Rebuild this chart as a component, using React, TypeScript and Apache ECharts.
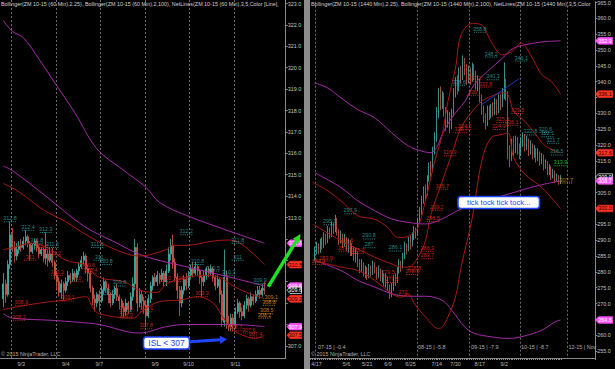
import React, { useEffect, useRef } from "react";
import * as echarts from "echarts";

const FONT = "'Liberation Sans', Arial, sans-serif";
const UP = "#43b3aa";
const DOWN = "#d4574a";
const RED = "#a8190f";
const PURPLE = "#a42aa8";
const CYAN = "#2fa8a8";
const LRED = "#e8301e";
const ORANGE = "#f29a12";
const GREEN = "#22e022";

// ---------- left panel (60 min) ----------
const LEFT_COUNT = 128;
const LEFT_FIRST = 1;
const leftDates: [number, string][] = [[9, "9/3"], [29, "9/4"], [44, "9/7"], [69, "9/9"], [84, "9/10"], [105, "9/11"]];
const leftDayBreaks = [5, 25, 45, 65, 85, 105];
// [open, close, low, high]
const leftBars: number[][] = [
  [309.2,309.9,308.8,310.4],[309.9,309.4,309.0,310.1],[309.4,310.8,309.3,311.0],[310.8,312.2,310.6,312.8],
  [312.2,311.6,311.4,312.5],[311.6,311.2,310.9,311.9],[311.2,311.5,311.0,311.8],[311.5,311.7,311.3,311.9],
  [311.7,311.6,311.4,312.0],[311.6,311.9,311.5,312.1],[311.9,312.1,311.7,312.4],[312.1,311.8,311.6,312.2],
  [311.8,311.4,311.0,311.9],[311.4,311.7,311.3,311.8],[311.7,311.9,311.5,312.0],[311.9,311.6,311.4,312.0],
  [311.6,311.3,311.1,311.7],[311.3,311.5,311.2,311.6],[311.5,311.1,310.9,311.6],[311.1,311.3,310.8,312.3],
  [311.3,311.0,310.7,311.5],[311.0,311.3,310.9,311.6],[311.3,310.9,310.7,311.6],[310.9,310.3,310.1,311.0],
  [310.3,310.0,309.6,310.5],[310.0,309.5,309.3,310.2],[309.5,309.9,309.2,310.1],[309.9,309.6,309.1,310.0],
  [309.6,310.0,309.5,310.2],[310.0,310.3,309.8,310.5],[310.3,310.1,309.9,310.4],[310.1,310.4,310.0,310.6],
  [310.4,310.2,310.0,310.5],[310.2,310.5,310.0,310.6],[310.5,310.7,310.3,310.9],[310.7,311.0,310.6,311.2],
  [311.0,311.2,310.8,311.4],[311.2,310.6,310.4,311.3],[310.6,310.4,310.0,310.8],[310.4,309.7,309.5,310.5],
  [309.7,309.2,308.9,309.8],[309.2,309.0,308.6,309.4],[309.0,309.4,308.8,309.5],[309.4,309.1,308.6,309.6],
  [309.1,309.6,309.0,309.8],[309.6,310.0,309.4,310.2],[310.0,309.7,309.5,310.1],[309.7,309.4,309.0,309.9],
  [309.4,309.0,308.8,309.5],[309.0,309.4,308.9,309.6],[309.4,309.7,309.2,309.8],[309.7,309.3,309.1,309.9],
  [309.3,309.1,308.7,309.4],[309.1,308.8,308.4,309.2],[308.8,308.6,308.3,309.0],[308.6,309.0,308.4,309.2],
  [309.0,308.7,308.5,309.1],[308.7,309.3,308.6,309.5],[309.3,309.9,309.1,310.2],[309.9,311.6,309.6,312.0],
  [311.6,309.0,308.6,311.8],[309.0,309.4,308.8,309.7],[309.4,309.1,308.7,309.6],[309.1,308.9,308.5,309.3],
  [308.9,308.4,307.9,309.1],[308.4,309.2,308.3,309.4],[309.2,309.8,309.0,310.0],[309.8,310.2,309.6,310.3],
  [310.2,310.0,309.8,310.4],[310.0,310.3,309.8,310.5],[310.3,310.1,309.9,310.4],[310.1,310.4,310.0,310.6],
  [310.4,310.0,309.8,310.5],[310.0,310.5,309.8,310.8],[310.5,311.3,310.4,311.6],[311.3,311.7,311.0,312.0],
  [311.7,310.9,310.6,312.2],[310.9,310.2,310.0,311.1],[310.2,309.6,309.2,310.4],[309.6,309.0,308.4,309.8],
  [309.0,309.6,308.8,309.8],[309.6,310.1,309.4,310.3],[310.1,309.8,309.6,310.4],[309.8,310.3,309.7,310.5],
  [310.3,310.6,310.1,310.8],[310.6,310.4,310.2,310.9],[310.4,310.7,310.3,310.9],[310.7,310.5,310.3,310.8],
  [310.5,310.2,309.9,310.6],[310.2,310.0,309.3,310.3],[310.0,310.3,309.8,310.5],[310.3,310.6,310.1,310.7],
  [310.6,310.4,310.2,310.7],[310.4,310.6,310.3,310.8],[310.6,310.2,310.0,310.7],[310.2,309.8,309.6,310.3],
  [309.8,310.1,309.7,310.3],[310.1,309.4,309.0,310.2],[309.4,308.2,307.9,309.6],[308.1,310.2,307.9,311.5],
  [310.2,308.0,307.8,310.5],[308.0,307.9,307.7,308.4],[307.9,308.3,307.7,308.5],[308.3,308.0,307.7,308.5],
  [308.0,308.6,307.8,308.8],[308.6,309.0,308.5,309.2],[309.0,308.6,308.3,309.1],[308.6,308.4,308.2,308.8],
  [308.4,308.9,308.3,309.1],[308.9,309.2,308.7,309.4],[309.2,308.9,308.6,309.3],[308.9,309.3,308.8,309.5],
  [309.3,309.1,308.9,309.4],[309.1,309.4,309.0,309.6],[309.4,309.6,309.3,309.8],[309.6,309.4,309.2,309.8],
  [309.4,309.7,309.3,309.9],[309.7,309.6,309.4,310.0],
];
const leftUpperPurple = [[1,322.2],[5,321.7],[10,321.4],[17,320.4],[24,319.3],[33,317.9],[43,316.2],[55,315.2],[65,314.4],[71,313.7],[83,313.1],[104,312.3],[118,311.8]];
const leftMidPurple = [[1,315.4],[5,315.2],[20,314.0],[37,312.6],[50,311.9],[64,311.2],[83,310.7],[103,310.2],[118,309.8]];
const leftLowerPurple = [[1,308.5],[5,308.3],[22,308.2],[35,308.1],[44,308.0],[62,307.6],[74,307.9],[83,308.0],[104,308.0],[118,307.9]];
const leftUpperRed = [[1,314.6],[8,314.2],[19,313.35],[29,312.8],[38,312.2],[49,311.6],[62,311.2],[74,311.5],[77,311.7],[83,311.7],[95,311.9],[102,311.95],[107,311.8],[113,311.3],[118,310.8]];
const leftMidRed = [[1,311.5],[4,311.56],[14,311.8],[22,311.5],[29,311.0],[37,310.8],[44,310.2],[55,310.0],[62,309.6],[70,309.5],[74,309.9],[83,310.2],[92,310.3],[98,310.2],[104,309.8],[110,309.5],[118,309.2]];
const leftLowerRed = [[1,308.7],[11,308.9],[22,309.07],[29,309.14],[38,309.3],[41,308.8],[44,308.5],[59,308.3],[64,308.7],[71,309.07],[80,309.14],[88,309.3],[95,309.0],[99,308.4],[104,307.74],[110,307.43],[114,307.35],[118,307.5]];
// [category index, price level, text]
const leftCyanLabels: [number, number, string][] = [
  [4,312.8,"312.8"],[12,312.4,"312.4"],[20,312.3,"312.3"],[16,311.8,"311.8"],[23,311.6,"311.6"],
  [43,311.6,"311.6"],[44,311.0,"311"],[47,310.8,"310.8"],[83,312.2,"312.2"],[106,311.8,"311.8"],
  [106,311.0,"311"],[88,310.8,"310.8"],[95,310.5,"310.5"],[102,310.3,"310.3"],[116,309.9,"309.9"],
  [53,309.8,"309.8"],[48,309.4,"309.4"],
];
const leftRedLabels: [number, number, string][] = [
  [13,311.0,"311"],[18,311.5,"311.5"],[24,311.2,"311.2"],[25,310.3,"310.3"],[34,310.0,"310"],
  [39,310.6,"310.6"],[40,310.4,"310.4"],[30,309.1,"309.1"],[9,308.9,"308.9"],[8,308.2,"308.2"],
  [74,310.0,"310"],[81,310.0,"310.1"],[90,309.3,"309.3"],[56,308.6,"308.6"],[56,308.3,"308.3"],
  [65,308.6,"308.6"],[65,307.8,"307.8"],[105,307.7,"307.7"],[111,307.6,"307.6"],[114,307.4,"307.4"],
];
const leftOrangeLabels: [number, number, string][] = [
  [121,309.1,"309.1"],[120,308.9,"308.8"],[119,308.5,"308.5"],[118,308.3,"308.2"],
];
const leftTags: [number, string][] = [[311.8,"pink"],[310.8,"red"],[309.8,"pink"],[309.6,"last"],[309.2,"red"],[307.9,"pink"],[307.5,"red"]];

// ---------- right panel (1440 min) ----------
const RIGHT_COUNT = 152;
const RIGHT_FIRST = 2;
const rightDates: [number, string][] = [[3,"4/17"],[19,"5/6"],[30,"5/21"],[41,"6/9"],[53,"6/25"],[67,"7/14"],[77,"7/30"],[90,"8/17"],[103,"9/2"]];
const rightContractBreaks = [3, 57, 85, 112, 137];
const rightContractTexts = ["07-15 | -0.4", "08-15 | -5.8", "09-15 | -7.9", "10-15 | -8.7", "12-15 | Nov"];
const rightBars: number[][] = [
  [285.0,286.5,283.5,288.0],[286.5,288.0,285.5,289.5],[288.0,287.0,285.5,289.0],[287.0,289.5,286.0,290.5],
  [289.5,288.5,287.0,291.0],[288.5,291.0,287.5,292.5],[291.0,290.0,288.5,292.0],[290.0,293.0,289.0,294.5],
  [293.0,292.0,290.5,294.0],[292.0,294.5,291.0,296.0],[294.5,293.5,292.0,295.5],[293.5,296.0,292.5,298.0],
  [296.0,292.5,291.5,297.0],[292.5,290.0,288.5,293.5],[290.0,291.5,289.0,293.0],[291.5,289.0,287.5,292.0],
  [289.0,290.5,288.0,292.0],[290.5,288.0,286.5,291.0],[288.0,289.0,286.0,290.5],[289.0,286.5,285.0,290.0],
  [286.5,287.5,285.0,289.0],[287.5,285.0,283.5,288.0],[285.0,286.0,283.0,287.5],[286.0,283.0,281.5,286.5],
  [283.0,281.5,279.5,284.0],[281.5,282.5,280.0,284.0],[282.5,279.5,278.5,283.0],[279.5,280.5,278.0,282.0],
  [280.5,279.0,277.5,281.5],[279.0,281.0,278.0,282.5],[281.0,280.0,278.5,282.0],[280.0,282.0,279.0,283.5],
  [282.0,281.0,279.5,283.0],[281.0,279.0,277.5,281.5],[279.0,280.5,278.0,282.0],[280.5,278.5,277.0,281.0],
  [278.5,279.0,276.5,280.5],[279.0,277.0,275.5,279.5],[277.0,278.0,275.0,279.5],[278.0,275.5,274.0,278.5],
  [275.5,273.0,271.5,276.0],[273.0,275.0,272.0,276.5],[275.0,278.0,274.0,279.0],[278.0,277.0,275.5,279.5],
  [277.0,280.5,276.5,281.5],[280.5,282.5,279.5,284.0],[282.5,281.5,280.0,283.5],[281.5,285.0,281.0,286.0],
  [285.0,288.5,284.0,289.5],[288.5,287.0,285.5,289.0],[287.0,290.0,286.5,291.0],[290.0,289.0,287.0,291.5],
  [289.0,291.0,288.0,292.5],[291.0,293.5,290.0,294.5],[293.5,292.0,290.5,294.0],[292.0,296.0,291.5,297.0],
  [296.0,299.0,295.0,300.5],[299.0,302.5,298.0,304.0],[302.5,306.0,301.5,307.0],[306.0,304.5,302.5,307.5],
  [304.5,309.5,304.0,310.5],[309.5,313.0,308.5,314.5],[313.0,312.0,310.0,315.0],[312.0,318.0,311.5,319.5],
  [318.0,322.0,317.0,324.0],[322.0,330.0,321.0,332.0],[330.0,336.0,328.5,338.0],[336.0,333.0,331.0,338.5],
  [333.0,335.5,331.5,337.0],[335.5,331.0,329.0,336.5],[331.0,327.0,324.5,332.0],[327.0,329.5,325.5,331.0],
  [329.5,325.5,323.7,330.5],[325.5,330.0,325.0,331.5],[330.0,336.5,329.0,338.0],[336.5,340.0,335.0,341.5],
  [340.0,338.0,336.0,342.0],[338.0,343.0,337.0,344.5],[343.0,341.5,339.5,345.0],[341.5,346.0,340.5,348.3],
  [346.0,344.0,342.0,347.5],[344.0,340.5,339.0,345.5],[340.5,343.5,339.5,345.0],[343.5,341.0,339.0,344.5],
  [341.0,344.5,340.0,346.0],[344.5,342.5,340.5,345.5],[342.5,339.0,337.5,343.5],[339.0,340.5,337.0,342.0],
  [340.5,335.0,333.5,341.0],[335.0,331.0,329.5,336.0],[331.0,329.0,327.0,332.5],[329.0,327.0,324.9,330.0],
  [327.0,331.5,326.0,332.5],[331.5,329.5,328.0,332.5],[329.5,332.0,328.5,333.0],[332.0,330.5,329.0,333.5],
  [330.5,333.5,329.5,335.0],[333.5,331.0,329.5,334.5],[331.0,334.5,330.0,336.0],[334.5,333.0,331.0,336.0],
  [333.0,336.0,332.0,338.0],[336.0,339.5,334.5,346.1],[339.5,336.0,334.0,341.0],[336.0,318.0,315.5,337.0],
  [318.0,316.0,313.0,320.0],[316.0,320.5,315.0,322.0],[320.5,318.5,316.5,322.8],[318.5,322.0,317.5,323.0],
  [322.0,319.0,317.0,322.5],[319.0,317.5,315.5,320.5],[317.5,321.0,316.5,322.5],[321.0,322.5,319.5,324.0],
  [322.5,319.5,318.0,323.5],[319.5,321.5,318.5,323.0],[321.5,318.0,316.5,322.0],[318.0,320.0,317.0,321.5],
  [320.0,317.0,315.5,320.5],[317.0,318.5,316.0,320.0],[318.5,316.0,314.5,319.0],[316.0,317.5,315.0,319.0],
  [317.5,315.0,313.5,318.0],[315.0,316.5,314.0,317.5],[316.5,313.5,312.0,317.0],[313.5,314.5,312.5,315.5],
  [314.5,312.0,310.5,315.0],[312.0,313.0,310.5,314.0],[313.0,310.5,309.0,313.5],[310.5,311.5,309.5,312.5],
  [311.5,309.5,308.0,312.0],[309.5,310.0,308.5,311.0],[310.0,308.5,307.5,310.5],[308.5,309.9,307.7,310.5],
];
const rightUpperPurple = [[2,339.6],[9,338.0],[16,334.9],[25,331.2],[34,328.6],[43,323.9],[52,319.7],[59,318.1],[64,317.6],[67,319.2],[70,323.4],[75,328.6],[82,333.8],[87,339.1],[94,343.2],[102,347.4],[108,350.6],[119,352.2],[126,352.7],[133,352.9]];
const rightMidPurple = [[2,311.3],[16,306.6],[25,302.4],[34,299.3],[43,296.7],[52,295.6],[61,295.1],[70,296.7],[78,299.3],[87,301.4],[96,302.9],[105,304.5],[114,306.1],[123,307.5],[133,308.7]];
const rightLowerPurple = [[2,283.6],[16,280.4],[25,277.3],[34,275.2],[43,273.1],[52,272.3],[61,272.3],[70,271.0],[75,267.9],[82,262.6],[87,260.6],[96,259.5],[105,259.0],[112,259.5],[123,261.6],[130,264.2],[133,264.8]];
const rightUpperRed = [[1,308.2],[9,305.6],[16,302.4],[25,297.7],[34,296.6],[41,294.0],[46,290.9],[50,290.9],[54,292.0],[57,294.0],[61,302.4],[66,315.0],[70,323.4],[73,333.8],[77,344.3],[80,354.8],[86,358.4],[91,357.9],[96,352.7],[102,348.5],[107,349.5],[112,352.2],[117,348.5],[123,342.2],[128,340.1],[133,336.1]];
const rightMidRed = [[1,295.1],[16,289.8],[25,287.2],[34,284.6],[43,282.5],[48,281.5],[52,281.5],[57,284.6],[61,289.8],[64,298.2],[70,308.7],[75,317.1],[80,325.5],[86,330.7],[91,333.8],[96,335.4],[102,336.5],[105,335.9],[108,330.7],[114,327.5],[119,323.9],[124,320.2],[130,318.1],[133,317.6]];
const rightLowerRed = [[1,283.6],[16,281.5],[25,280.4],[34,277.3],[43,273.1],[48,272.0],[52,273.1],[55,270.0],[61,265.8],[68,262.1],[70,262.6],[73,265.8],[77,272.0],[80,281.5],[86,297.2],[91,315.0],[96,322.3],[102,323.4],[105,323.9],[108,316.1],[114,310.8],[123,306.6],[133,300.0]];
const rightTrend = [[91,332.8],[111,341.0]];
const rightCyanLabels: [number, number, string][] = [
  [90,355.6,"358.8"],[96,347.8,"348.2"],[112,346.5,"346.1"],[97,340.6,"340.3"],[79,338.9,"338.6"],
  [117,323.2,"322.8"],[125,324.0,"320.6"],[126,322.6,"322.1"],[129,320.6,"321.7"],[131,316.9,"316.5"],
  [21,298.3,"297.9"],[10,294.9,"295.3"],[31,290.4,"290.8"],[31,287.6,"287"],[45,286.6,"286.1"],
];
const rightRedLabels: [number, number, string][] = [
  [93,338.3,"337.8"],[87,340.2,"337.3"],[86,335.7,"336"],[110,330.0,"329.5"],[102,327.1,"325.9"],
  [100,324.9,"324.9"],[107,326.3,"326.1"],[82,324.9,"324.5"],[80,323.9,"323.7"],[74,316.6,"316.3"],
  [70,306.1,"305.7"],[67,299.4,"299.2"],[65,295.9,"296.5"],[62,286.5,"286.3"],[62,284.1,"283.7"],
  [55,280.2,"278.8"],[54,279.2,"278.3"],[49,272.6,"272"],[41,278.7,"279.5"],[43,276.6,"277.5"],
  [8,283.4,"283.9"],[4,282.3,"281.9"],[19,289.1,"289.6"],[18,286.5,"287.4"],[25,285.8,"285.3"],
];
const rightGreenLabels: [number, number, string][] = [[133,313.5,"313.3"]];
const rightOrangeLabels: [number, number, string][] = [[136,308.0,"307.7"]];
const rightTags: [number, string][] = [[352.9,"pink"],[336.1,"red"],[317.6,"red"],[309.9,"last"],[308.7,"pink"],[300.0,"red"],[264.8,"pink"]];

const DOTS = "path://M0,0h1v1h-1z M2,0h1v1h-1z M4,0h1v1h-1z M6,0h1v1h-1z M8,0h1v1h-1z M10,0h1v1h-1z";

function padBars(bars: number[][], first: number, count: number) {
  const out: any[] = [];
  for (let i = 0; i < count; i++) {
    const b = bars[i - first];
    out.push(i >= first && b ? b : "-");
  }
  return out;
}

function cats(count: number, labels: [number, string][]) {
  const m = new Map(labels);
  return Array.from({ length: count }, (_, i) => m.get(i) ?? "");
}

const band = (xi: number, data: number[][], color: string, width = 1) => ({
  type: "line", xAxisIndex: xi, yAxisIndex: xi, data, smooth: 0.35, showSymbol: false, symbol: "none",
  lineStyle: { color, width }, z: 3, silent: true,
});

const labels = (xi: number, items: [number, number, string][], color: string) => ({
  type: "scatter", xAxisIndex: xi, yAxisIndex: xi,
  data: items.map(([i, v, t]) => ({ value: [i, v], name: t })),
  symbol: DOTS, symbolSize: [12, 1], itemStyle: { color },
  label: { show: true, position: "top", distance: 0.5, formatter: (p: any) => p.name, color, fontSize: 5.4, fontFamily: FONT },
  z: 5, silent: true,
});

const candle = (xi: number, data: any[], w: number) => ({
  type: "candlestick", xAxisIndex: xi, yAxisIndex: xi, data, barWidth: w,
  itemStyle: { color: UP, color0: DOWN, borderColor: UP, borderColor0: DOWN, borderWidth: 0.8 },
  z: 2, silent: true,
});

const xAxisBase = (grid: number, data: string[], breaks: number[], tickShow: boolean, tickMax: number) => {
  const dateSet = new Set(data.map((d, i) => (d ? i : -1)).filter((i) => i >= 0));
  return {
    type: "category", gridIndex: grid, data, boundaryGap: true,
    axisLine: { show: true, lineStyle: { color: "#8a8a8a", width: 1 } },
    axisTick: { show: tickShow, interval: (i: number) => i <= tickMax, length: 2, lineStyle: { color: "#8a8a8a" } },
    axisLabel: { interval: (i: number) => dateSet.has(i), color: "#b8b8b8", fontSize: 5.4, fontFamily: FONT, margin: 3 },
    splitLine: { show: true, interval: (i: number) => breaks.includes(i), lineStyle: { color: "#6a6a6a", type: [2, 2], width: 1 } },
  };
};

// axis labels hidden beneath a price tag are left blank, as in the reference
const yAxisBase = (grid: number, min: number, max: number, step: number, tags: [number, string][], near: number) => ({
  type: "value", gridIndex: grid, position: "right", min, max, minInterval: step, maxInterval: step,
  axisLine: { show: true, lineStyle: { color: "#8a8a8a" } },
  axisTick: { show: true, length: 2, lineStyle: { color: "#8a8a8a" } },
  axisLabel: {
    color: "#c4c4c4", fontSize: 5.4, fontFamily: FONT, margin: 2, showMinLabel: false, showMaxLabel: false,
    formatter: (v: number) => (tags.some(([t]) => Math.abs(t - v) < near) ? "" : v.toFixed(1)),
  },
  splitLine: { show: false },
});

export default function App() {
  const ref = useRef<HTMLDivElement>(null);
  useEffect(() => {
    if (!ref.current) return;
    const chart = echarts.init(ref.current, null, { renderer: "svg" });
    const option: any = {
      animation: false,
      backgroundColor: "#000",
      grid: [
        { left: 0, right: 329.3, top: 0, bottom: 11 },
        { left: 310, right: 19.7, top: 0, bottom: 11 },
      ],
      xAxis: [
        xAxisBase(0, cats(LEFT_COUNT, leftDates), leftDayBreaks, false, 0),
        xAxisBase(1, cats(RIGHT_COUNT, rightDates), rightContractBreaks, true, 134),
      ],
      yAxis: [yAxisBase(0, 306.435, 323.164, 1, leftTags, 0.3), yAxisBase(1, 252.81, 365.245, 5, rightTags, 1.8)],
      series: [
        candle(0, padBars(leftBars, LEFT_FIRST, LEFT_COUNT), 1.5),
        band(0, leftUpperPurple, PURPLE), band(0, leftMidPurple, PURPLE), band(0, leftLowerPurple, PURPLE),
        band(0, leftUpperRed, RED), band(0, leftMidRed, RED), band(0, leftLowerRed, RED),
        labels(0, leftCyanLabels, CYAN), labels(0, leftRedLabels, LRED), labels(0, leftOrangeLabels, ORANGE),
        candle(1, padBars(rightBars, RIGHT_FIRST, RIGHT_COUNT), 1.2),
        band(1, rightUpperPurple, PURPLE), band(1, rightMidPurple, PURPLE), band(1, rightLowerPurple, PURPLE),
        band(1, rightUpperRed, RED), band(1, rightMidRed, RED), band(1, rightLowerRed, RED),
        band(1, rightTrend, "#2040d0"),
        labels(1, rightCyanLabels, CYAN), labels(1, rightRedLabels, LRED), labels(1, rightGreenLabels, GREEN), labels(1, rightOrangeLabels, ORANGE),
      ],
    };
    chart.setOption(option);

    const small = { fontSize: 5.4, fontFamily: FONT };
    const g: any[] = [
      { type: "rect", shape: { x: 304, y: 0, width: 6, height: 369 }, style: { fill: "#8c8c8c" }, z: 10 },
      { type: "text", x: 1, y: 1.5, style: { text: "Bollinger(ZM 10-15 (60 Min),2.25), Bollinger(ZM 10-15 (60 Min),2,100), NetLines(ZM 10-15 (60 Min),3,5,Color [Line],Col", fill: "#d0d0d0", ...small, width: 283, overflow: "truncate", ellipsis: "" }, z: 10 },
      { type: "text", x: 311, y: 1.5, style: { text: "Bollinger(ZM 10-15 (1440 Min),2.25), Bollinger(ZM 10-15 (1440 Min),2,100), NetLines(ZM 10-15 (1440 Min),3,5,Color [Li", fill: "#d0d0d0", ...small, width: 283, overflow: "truncate", ellipsis: "" }, z: 10 },
      { type: "text", x: 1, y: 351.5, style: { text: "© 2015 NinjaTrader, LLC", fill: "#b0b0b0", ...small }, z: 10 },
      { type: "text", x: 311, y: 351.5, style: { text: "© 2015 NinjaTrader, LLC", fill: "#b0b0b0", ...small }, z: 10 },
    ];
    const contractX = [318, 418, 471, 521, 568.5];
    rightContractTexts.forEach((t, k) => {
      g.push({ type: "text", x: contractX[k], y: 344.5, style: { text: t, fill: "#b0b0b0", ...small }, z: 10 });
    });
    const addTags = (axis: number, tags: [number, string][], x0: number, x1: number) => {
      tags.forEach(([v, kind]) => {
        const y = chart.convertToPixel({ yAxisIndex: axis } as any, v) as number;
        const h = 3.3;
        const fill = kind === "pink" ? "#ff55ff" : kind === "red" ? "#ff3322" : "#000";
        const stroke = kind === "last" ? "#ffffff" : fill;
        const tc = kind === "red" ? "#1a0000" : "#ffffff";
        g.push({ type: "polygon", shape: { points: [[x0, y], [x0 + 3, y - h], [x1, y - h], [x1, y + h], [x0 + 3, y + h]] }, style: { fill, stroke, lineWidth: 0.7 }, z: 11 });
        g.push({ type: "text", x: (x0 + x1) / 2 + 1, y, style: { text: v.toFixed(1), fill: tc, ...small, align: "center", verticalAlign: "middle" }, z: 12 });
      });
    };
    addTags(0, leftTags, 287, 301.5);
    addTags(1, rightTags, 595.5, 612.5);

    const BLUE = "#1f45ff";
    g.push(
      { type: "rect", shape: { x: 143.5, y: 337, width: 46, height: 12, r: 3 }, style: { fill: "#fff", stroke: BLUE, lineWidth: 1.6 }, z: 13 },
      { type: "text", x: 166.5, y: 343.2, style: { text: "ISL < 307", fill: BLUE, fontSize: 8.5, fontFamily: FONT, align: "center", verticalAlign: "middle" }, z: 14 },
      { type: "line", shape: { x1: 190, y1: 341.7, x2: 220, y2: 339.8 }, style: { stroke: BLUE, lineWidth: 3 }, z: 13 },
      { type: "polygon", shape: { points: [[227, 339.3], [220.3, 343.8], [219.7, 335.8]] }, style: { fill: BLUE }, z: 13 },
      { type: "rect", shape: { x: 458, y: 196.5, width: 81.5, height: 12, r: 3 }, style: { fill: "#fff", stroke: BLUE, lineWidth: 1.6 }, z: 13 },
      { type: "text", x: 498.7, y: 202.7, style: { text: "tick tock tick tock...", fill: BLUE, fontSize: 7.6, fontFamily: FONT, align: "center", verticalAlign: "middle" }, z: 14 },
      { type: "line", shape: { x1: 268.3, y1: 286.7, x2: 296.3, y2: 240.8 }, style: { stroke: GREEN, lineWidth: 3.5 }, z: 13 },
      { type: "polygon", shape: { points: [[300.5, 234], [299.7, 242.9], [292.9, 238.7]] }, style: { fill: GREEN }, z: 13 },
    );
    chart.setOption({ graphic: g });
    return () => chart.dispose();
  }, []);
  return <div ref={ref} style={{ position: "fixed", left: 0, top: 0, width: 615, height: 369 }} />;
}
